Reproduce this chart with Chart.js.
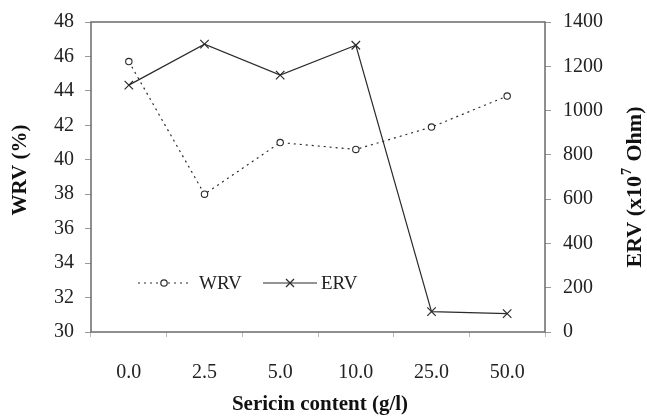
<!DOCTYPE html>
<html>
<head>
<meta charset="utf-8">
<script src="https://cdn.jsdelivr.net/npm/chart.js@4.4.1/dist/chart.umd.min.js"></script>
<style>
  html, body { margin: 0; padding: 0; background: #fff; }
  #wrap { width: 647px; height: 417px; position: relative; }
</style>
</head>
<body>
<div id="wrap"><canvas id="chart"></canvas></div>
<script>
const categories = ['0.0', '2.5', '5.0', '10.0', '25.0', '50.0'];
const wrvValues = [45.7, 38.0, 41.0, 40.6, 41.9, 43.7];
const ervValues = [1115, 1300, 1160, 1295, 92, 83];

const wrvTicks = [30, 32, 34, 36, 38, 40, 42, 44, 46, 48];
const ervTicks = [0, 200, 400, 600, 800, 1000, 1200, 1400];

const ink = '#2b2b2b';
const axisGray = '#6a6a6a';
const serif = '"Liberation Serif", "DejaVu Serif", serif';

// box, axis titles and the in-plot legend
const decorations = {
  id: 'decorations',
  afterDraw(chart) {
    const { ctx, chartArea: a } = chart;
    ctx.save();
    ctx.strokeStyle = axisGray;
    ctx.lineWidth = 1.5;
    ctx.strokeRect(a.left, a.top, a.right - a.left, a.bottom - a.top);

    ctx.fillStyle = '#111';
    ctx.font = 'bold 21px ' + serif;
    ctx.textAlign = 'center';
    ctx.textBaseline = 'middle';
    ctx.fillText('Sericin content (g/l)', 320, 405);

    ctx.save();
    ctx.translate(21, 170);
    ctx.rotate(-Math.PI / 2);
    ctx.fillText('WRV (%)', 0, 0);
    ctx.restore();

    // right title with a real superscript
    ctx.save();
    ctx.translate(635, 187);
    ctx.rotate(-Math.PI / 2);
    const part1 = 'ERV (x10';
    const part2 = ' Ohm)';
    ctx.font = 'bold 22px ' + serif;
    const w1 = ctx.measureText(part1).width;
    const w2 = ctx.measureText(part2).width;
    ctx.font = 'bold 14px ' + serif;
    const wSup = ctx.measureText('7').width + 2;
    const x0 = -(w1 + wSup + w2) / 2;
    ctx.textAlign = 'left';
    ctx.font = 'bold 22px ' + serif;
    ctx.fillText(part1, x0, 0);
    ctx.font = 'bold 14px ' + serif;
    ctx.fillText('7', x0 + w1 + 1, -8);
    ctx.font = 'bold 22px ' + serif;
    ctx.fillText(part2, x0 + w1 + wSup, 0);
    ctx.restore();

    // legend
    const ly = 283;
    ctx.font = '19px ' + serif;
    ctx.textAlign = 'left';
    ctx.textBaseline = 'middle';
    ctx.strokeStyle = ink;
    ctx.lineWidth = 1.2;
    ctx.setLineDash([2, 4]);
    ctx.beginPath();
    ctx.moveTo(138, ly); ctx.lineTo(190, ly);
    ctx.stroke();
    ctx.setLineDash([]);
    ctx.fillStyle = '#fff';
    ctx.beginPath();
    ctx.arc(164, ly, 3.2, 0, Math.PI * 2);
    ctx.fill(); ctx.stroke();
    ctx.fillStyle = '#222';
    ctx.fillText('WRV', 199, ly + 1);

    ctx.beginPath();
    ctx.moveTo(263, ly); ctx.lineTo(317, ly);
    ctx.stroke();
    ctx.beginPath();
    ctx.moveTo(286, ly - 4); ctx.lineTo(294, ly + 4);
    ctx.moveTo(294, ly - 4); ctx.lineTo(286, ly + 4);
    ctx.stroke();
    ctx.fillText('ERV', 321, ly + 1);
    ctx.restore();
  }
};

const plainLabel = v => String(v);
const tickFont = { family: serif, size: 20, lineHeight: 1 };

new Chart(document.getElementById('chart'), {
  type: 'line',
  data: {
    labels: categories,
    datasets: [
      {
        label: 'WRV',
        data: wrvValues,
        yAxisID: 'y',
        borderColor: ink,
        borderWidth: 1.2,
        borderDash: [2, 4],
        pointStyle: 'circle',
        pointRadius: 3.2,
        pointBorderWidth: 1.1,
        pointBackgroundColor: '#fff',
        pointBorderColor: ink,
        tension: 0,
      },
      {
        label: 'ERV',
        data: ervValues,
        yAxisID: 'y1',
        borderColor: ink,
        borderWidth: 1.2,
        pointStyle: 'crossRot',
        pointRadius: 6,
        pointBorderWidth: 1.2,
        pointBorderColor: ink,
        tension: 0,
      },
    ],
  },
  options: {
    responsive: true,
    maintainAspectRatio: false,
    animation: false,
    layout: { padding: { top: 20, left: 0, right: 0, bottom: 0 } },
    plugins: { legend: { display: false }, tooltip: { enabled: false } },
    scales: {
      x: {
        offset: true,
        afterFit: s => { s.height = 85; },
        grid: { offset: true, drawOnChartArea: false, tickLength: 5, color: '#bbb' },
        border: { display: false },
        ticks: { color: '#222', font: { family: serif, size: 20 }, padding: 24 },
      },
      y: {
        position: 'left',
        min: 30,
        max: 48,
        afterFit: s => { s.width = 91; },
        afterBuildTicks: s => { s.ticks = wrvTicks.map(v => ({ value: v })); },
        grid: { drawOnChartArea: false, tickLength: 6, color: '#999' },
        border: { display: false },
        ticks: { color: '#222', font: tickFont, padding: 11, callback: plainLabel },
      },
      y1: {
        position: 'right',
        min: 0,
        max: 1400,
        afterFit: s => { s.width = 102; },
        afterBuildTicks: s => { s.ticks = ervTicks.map(v => ({ value: v })); },
        grid: { drawOnChartArea: false, tickLength: 6, color: '#999' },
        border: { display: false },
        ticks: { color: '#222', font: tickFont, padding: 12, callback: plainLabel },
      },
    },
  },
  plugins: [decorations],
});
</script>
</body>
</html>
